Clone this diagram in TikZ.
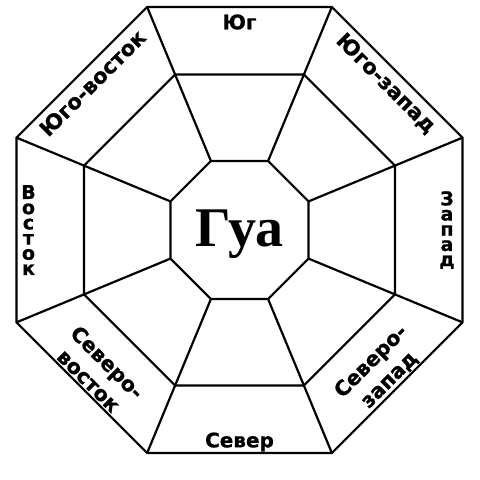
\documentclass[tikz,border=0pt]{standalone}
\usepackage{fontspec}
\setmainfont{DejaVu Sans}
\newfontfamily\lblfont{DejaVu Sans}[BoldFeatures={FakeBold=0.8}]
\newfontfamily\guafont{Liberation Serif}
\begin{document}
\begin{tikzpicture}[x=1pt,y=1pt,
  frame/.style={line width=2.2pt,line join=miter},
  lbl/.style={font=\lblfont\bfseries\fontsize{20}{20}\selectfont,inner sep=0pt},
  diag/.style={lbl,font=\lblfont\bfseries\fontsize{21}{21}\selectfont},
  stack/.style={lbl,align=center,font=\lblfont\bfseries\fontsize{19}{15.2}\selectfont},
  twoline/.style={lbl,align=center,font=\lblfont\bfseries\fontsize{20.5}{26}\selectfont}]
\useasboundingbox (0,0) rectangle (480,480);
\fill[white] (0,0) rectangle (480,480);
\coordinate (C) at (239.5,250);
\foreach \k in {1,...,8}{
  \pgfmathsetmacro{\ang}{22.5+45*(\k-1)}
  \coordinate (o\k) at ([shift={(\ang:241.4pt)}]C);
  \coordinate (m\k) at ([shift={(\ang:168.3pt)}]C);
  \coordinate (i\k) at ([shift={(\ang:74.7pt)}]C);
}
\draw[frame] (o1)--(o2)--(o3)--(o4)--(o5)--(o6)--(o7)--(o8)--cycle;
\draw[frame] (m1)--(m2)--(m3)--(m4)--(m5)--(m6)--(m7)--(m8)--cycle;
\draw[frame] (i1)--(i2)--(i3)--(i4)--(i5)--(i6)--(i7)--(i8)--cycle;
\foreach \k in {1,...,8}{
  \draw[frame] (o\k)--(m\k)--(i\k);
}
\node[font=\guafont\bfseries\fontsize{56}{56}\selectfont,inner sep=0pt] (gua) at ([shift={(0pt,-4pt)}]C) {Гуа};
\node[lbl] (s) at ([shift={(90:208pt)}]C) {Юг};
\node[diag,rotate=-45] (sw) at ([shift={(45:207pt)}]C) {Юго-запад};
\node[stack] (w) at ([shift={(0:207.5pt)}]C) {З\\а\\п\\а\\д};
\node[twoline,rotate=45] (nw) at ([shift={(-45:199pt)}]C) {Северо-\\запад};
\node[lbl] (n) at ([shift={(-90:212pt)}]C) {Север};
\node[twoline,rotate=-45] (ne) at ([shift={(-135:200pt)}]C) {Северо-\\восток};
\node[stack] (e) at ([shift={(180:211pt)}]C) {В\\о\\с\\т\\о\\к};
\node[diag,rotate=45] (se) at ([shift={(135:208pt)}]C) {Юго-восток};
\end{tikzpicture}
\end{document}
